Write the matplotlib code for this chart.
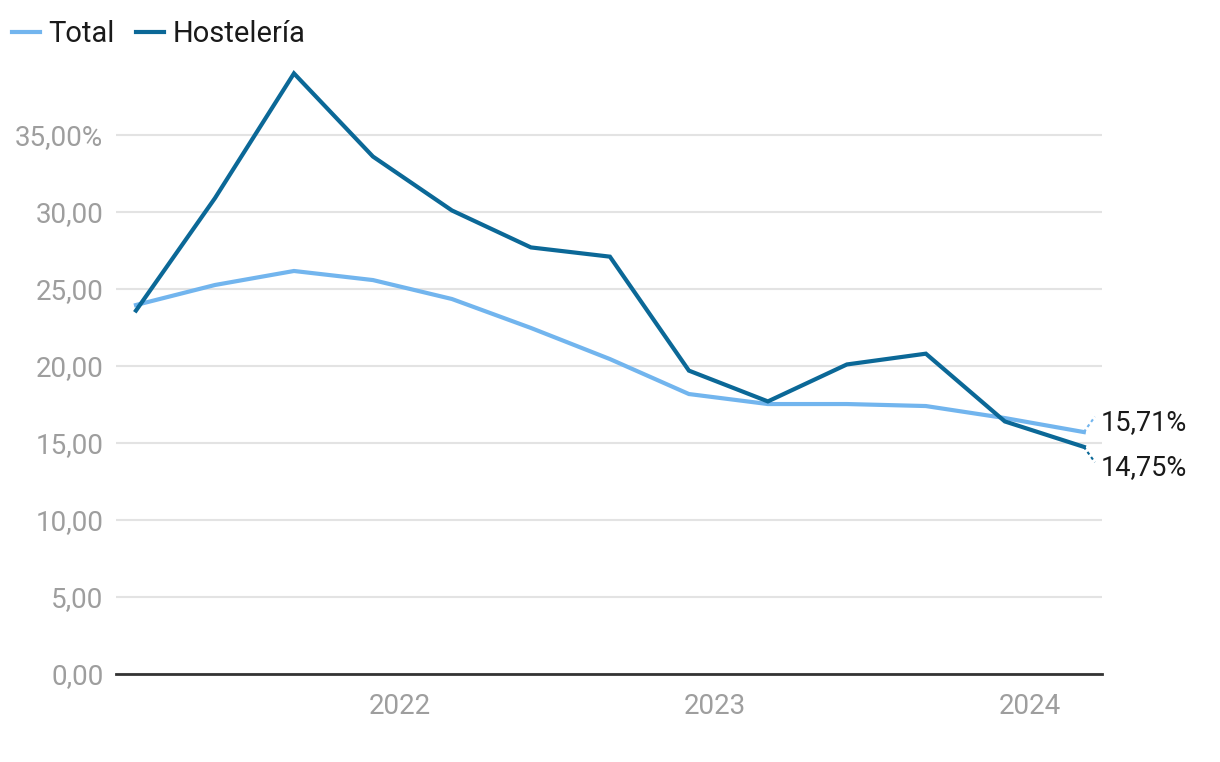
import matplotlib
matplotlib.use("Agg")
import matplotlib.pyplot as plt
from matplotlib.lines import Line2D

plt.rcParams['font.family'] = ['Roboto', 'DejaVu Sans']

# Data (quarterly observations)
periods = list(range(13))
total = [23.96, 25.26, 26.17, 25.58, 24.35, 22.47, 20.45, 18.18, 17.53, 17.53, 17.40, 16.62, 15.71]
hosteleria = [23.6, 30.9, 39.0, 33.6, 30.1, 27.7, 27.1, 19.7, 17.7, 20.1, 20.8, 16.4, 14.75]
year_labels = ["2022", "2023", "2024"]
year_positions = [3.34, 7.33, 11.32]
y_ticks = [0, 5, 10, 15, 20, 25, 30, 35]
y_tick_labels = ["0,00", "5,00", "10,00", "15,00", "20,00", "25,00", "30,00", "35,00%"]
series_names = ["Total", "Hostelería"]
end_labels = ["15,71%", "14,75%"]

c_total = "#72b5ee"
c_host = "#0b6897"
gray = "#9e9e9e"

W, H = 1220, 762
fig = plt.figure(figsize=(W / 100, H / 100), dpi=100)
ax = fig.add_axes([116 / W, 1 - 674 / H, (1102 - 116) / W, (674 - 58) / H])

ax.plot(periods, total, color=c_total, lw=3, solid_joinstyle='miter', zorder=3)
ax.plot(periods, hosteleria, color=c_host, lw=3, solid_joinstyle='miter', zorder=4)

ax.set_ylim(0, 40)
ax.set_xlim(-0.253, 12.23)
ax.set_yticks(y_ticks)
ax.set_yticklabels(y_tick_labels)
ax.set_xticks(year_positions)
ax.set_xticklabels(year_labels)
ax.tick_params(axis='both', length=0, colors=gray, labelsize=20)
ax.tick_params(axis='y', pad=9)
ax.tick_params(axis='x', pad=14)
ax.grid(axis='y', color='#e3e3e3', lw=1.5)
ax.set_axisbelow(True)
for s in ['top', 'right', 'left']:
    ax.spines[s].set_visible(False)
ax.spines['bottom'].set_color('#333333')
ax.spines['bottom'].set_linewidth(2)
ax.spines['bottom'].set_zorder(5)

# end labels with dotted connectors
last = periods[-1]
offsets = [(0.14, 1.0), (0.14, -1.0)]
vals = [total[-1], hosteleria[-1]]
cols = [c_total, c_host]
for v, lab, col, (dx, dy) in zip(vals, end_labels, cols, offsets):
    ax.plot([last, last + dx], [v, v + dy], color=col, lw=1.5, ls=(0, (1.5, 1.5)),
            clip_on=False, zorder=3)
    ax.annotate(lab, xy=(last + dx, v + dy), xytext=(4, -4), textcoords='offset points',
                ha='left', va='center', fontsize=19.5, color='#1a1a1a',
                annotation_clip=False)

# legend
handles = [Line2D([], [], color=c_total, lw=3), Line2D([], [], color=c_host, lw=3)]
fig.legend(handles, series_names, loc='upper left', bbox_to_anchor=(12 / W, 1 - 20 / H),
           frameon=False, fontsize=21, handlelength=0.96, handletextpad=0.28,
           columnspacing=0.75, ncol=2, labelcolor='#1a1a1a', borderaxespad=0,
           borderpad=0)

fig.savefig("out.png", dpi=100, facecolor='white')
